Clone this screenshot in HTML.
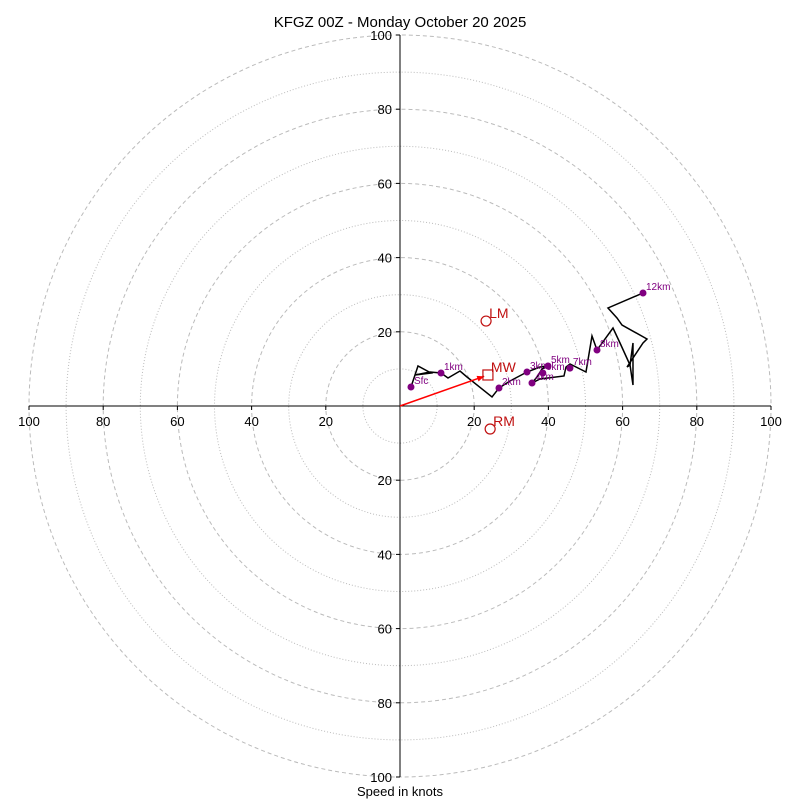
<!DOCTYPE html>
<html><head><meta charset="utf-8"><style>
body{margin:0;background:#fff;}
svg{display:block;font-family:"Liberation Sans","DejaVu Sans",sans-serif;}
</style></head><body>
<svg id="c" width="800" height="800"></svg>
<script>
const ringSpeeds=[10,20,30,40,50,60,70,80,90,100];
const tickLabels=[20,40,60,80,100];
const traceU=[2.96,4.85,8.36,4.04,8.09,11.05,12.94,16.17,18.06,24.80,26.68,29.65,34.23,37.74,39.89,38.27,36.93,35.58,37.74,44.20,44.74,45.82,50.13,51.75,53.10,57.41,59.30,62.00,62.80,62.80,62.00,61.19,65.50,66.58,59.84,58.49,56.06,65.50];
const traceV=[5.12,10.78,8.89,8.36,9.16,8.89,7.55,9.43,7.82,2.43,4.85,6.74,9.16,10.51,10.78,9.97,7.82,6.20,7.28,8.09,10.51,11.32,9.16,18.87,15.09,21.02,16.98,11.05,5.66,16.98,11.05,10.51,16.98,18.06,21.83,23.72,26.42,30.46];
const markerLabels=["Sfc","1km","2km","3km","4km","5km","6km","7km","8km","12km"];
const markerU=[2.96,11.05,26.68,34.23,35.58,39.89,38.5,45.8,53.10,65.50];
const markerV=[5.12,8.89,4.85,9.16,6.20,10.78,8.9,10.2,15.09,30.46];
const motionLabels=["LM","MW","RM"];
const motionU=[23.2,23.7,24.3];
const motionV=[22.9,8.36,-6.2];

const cx=400,cy=406,S=3.71;
const X=u=>cx+u*S, Y=v=>cy-v*S;
const svg=document.getElementById('c');
const NS='http://www.w3.org/2000/svg';
function mk(t,a,p){const e=document.createElementNS(NS,t);for(const k in a)e.setAttribute(k,a[k]);(p||svg).appendChild(e);return e;}

let e=mk('text',{x:400,y:27,'text-anchor':'middle','font-size':15});e.textContent='KFGZ 00Z - Monday October 20 2025';



ringSpeeds.forEach(s=>{
  const r=mk('circle',{cx:cx,cy:cy,r:s*S,fill:'none',stroke:'#bbb','stroke-width':1,'stroke-dasharray':s%20===0?'4,3':'1,2'});
  
  
});
e=mk('line',{x1:X(-100),y1:cy,x2:X(100),y2:cy,stroke:'#000'});


e=mk('line',{x1:cx,y1:Y(100),x2:cx,y2:Y(-100),stroke:'#000'});



tickLabels.forEach(t=>{
  [-1,1].forEach(sg=>{
    mk('line',{x1:X(sg*t),y1:cy,x2:X(sg*t),y2:cy+4,stroke:'#000'});
    let tx=mk('text',{x:X(sg*t),y:cy+20,'text-anchor':'middle','font-size':13});tx.textContent=t;
    
    
    mk('line',{x1:cx-4,y1:Y(sg*t),x2:cx,y2:Y(sg*t),stroke:'#000'});
    let ty=mk('text',{x:cx-8,y:Y(sg*t)+5,'text-anchor':'end','font-size':13});ty.textContent=t;
    
    
  });
});
e=mk('text',{x:400,y:796,'text-anchor':'middle','font-size':13});e.textContent='Speed in knots';



let pts=traceU.map((u,i)=>X(u)+','+Y(traceV[i])).join(' ');
e=mk('polyline',{points:pts,fill:'none',stroke:'#000','stroke-width':1.5});



const ax=X(motionU[1]),ay=Y(motionV[1]);
const ang=Math.atan2(ay-cy,ax-cx),ex=ax-4*Math.cos(ang),ey=ay-4*Math.sin(ang);
e=mk('line',{x1:cx,y1:cy,x2:ex,y2:ey,stroke:'red','stroke-width':1.5});


const hx=ex-7*Math.cos(ang),hy=ey-7*Math.sin(ang);
mk('polygon',{points:`${ex},${ey} ${hx-3*Math.sin(ang)},${hy+3*Math.cos(ang)} ${hx+3*Math.sin(ang)},${hy-3*Math.cos(ang)}`,fill:'red'});

markerU.forEach((u,i)=>{
  const m=mk('circle',{cx:X(u),cy:Y(markerV[i]),r:3.5,fill:'purple'});
  
  
  const t=mk('text',{x:X(u)+3,y:Y(markerV[i])-3,'font-size':10,fill:'purple'});t.textContent=markerLabels[i];
  
  
});

motionU.forEach((u,i)=>{
  const px=X(u),py=Y(motionV[i]);
  let m;
  if(motionLabels[i]==='MW') m=mk('rect',{x:px-5,y:py-5,width:10,height:10,fill:'none',stroke:'#c01010','stroke-width':1.2});
  else m=mk('circle',{cx:px,cy:py,r:5,fill:'none',stroke:'#c01010','stroke-width':1.2});
  
  
  const t=mk('text',{x:px+3,y:py-3,'font-size':14,fill:'#c01010'});t.textContent=motionLabels[i];
  
  
});
</script>
</body></html>
